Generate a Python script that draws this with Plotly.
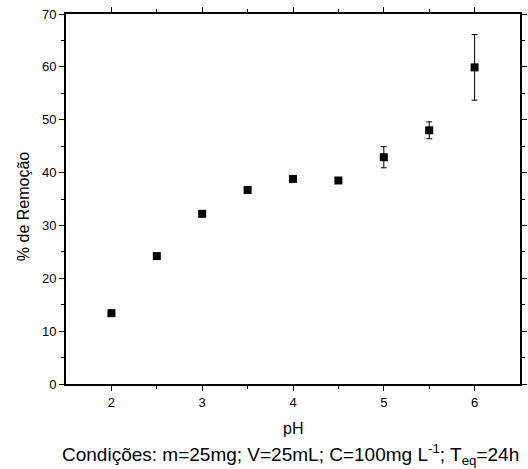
import plotly.graph_objects as go

ph = [2.0, 2.5, 3.0, 3.5, 4.0, 4.5, 5.0, 5.5, 6.0]
remocao = [13.4, 24.2, 32.2, 36.7, 38.8, 38.5, 42.9, 48.0, 59.9]
erro = [0.5, 0.2, 0.5, 0.2, 0.4, 0.2, 2.0, 1.6, 6.2]

FONT = 'Arial, Liberation Sans, sans-serif'

fig = go.Figure()
fig.add_trace(go.Scatter(
    x=ph, y=remocao, mode='markers',
    marker=dict(symbol='square', size=8, color='black'),
    error_y=dict(type='data', array=erro, visible=True, color='black', thickness=1, width=3),
    showlegend=False,
))

axis_common = dict(
    showline=True, linecolor='black', linewidth=2, mirror='ticks',
    ticks='outside', ticklen=5, tickwidth=1, tickcolor='black',
    showgrid=False, zeroline=False, automargin=False, ticklabeloverflow='allow',
    tickfont=dict(family=FONT, size=13, color='black'),
)

fig.update_xaxes(
    range=[1.5, 6.5], tickvals=[2, 3, 4, 5, 6],
    minor=dict(tickvals=[2.5, 3.5, 4.5, 5.5], ticks='outside', ticklen=3, tickcolor='black'),
    **axis_common,
)
fig.update_yaxes(
    range=[0, 70], tickvals=[0, 10, 20, 30, 40, 50, 60, 70],
    minor=dict(dtick=5, ticks='outside', ticklen=3, tickcolor='black'),
    **axis_common,
)

# titulos dos eixos
fig.add_annotation(text='pH', xref='paper', yref='paper', x=0.5, y=0,
                   yanchor='middle', yshift=-44, showarrow=False,
                   font=dict(family=FONT, size=16, color='black'))
fig.add_annotation(text='Condições: m=25mg; V=25mL; C=100mg L<sup>-1</sup>; T<sub>eq</sub>=24h',
                   xref='paper', yref='paper', x=0.495, y=0,
                   yanchor='middle', yshift=-70, showarrow=False,
                   font=dict(family=FONT, size=19, color='black'))
fig.add_annotation(text='% de Remoção', xref='paper', yref='paper', x=0, y=0.478,
                   xanchor='center', yanchor='middle', xshift=-43, textangle=-90,
                   showarrow=False, font=dict(family=FONT, size=16, color='black'))

fig.update_layout(
    width=528, height=469,
    margin=dict(l=66, r=8, t=14, b=85),
    plot_bgcolor='white', paper_bgcolor='white',
)

# tira a margem padrao do body
fig.write_html("out.html", config={'displayModeBar': False},
               post_script="document.body.style.margin='0';")
